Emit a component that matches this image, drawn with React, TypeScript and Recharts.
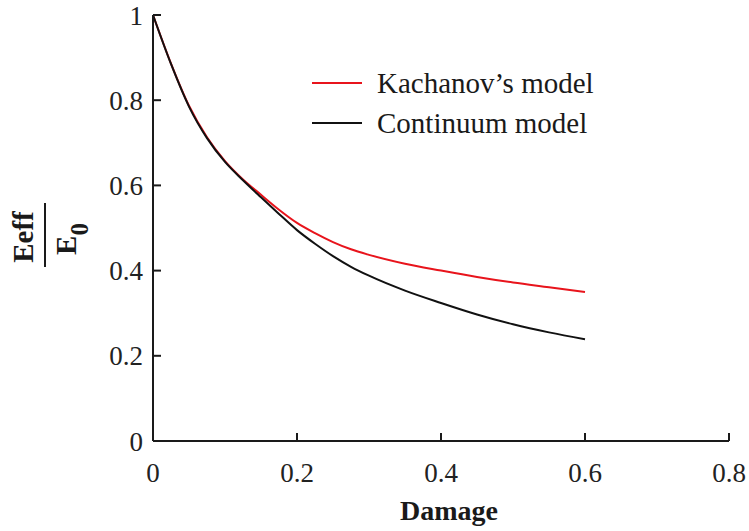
import { Label, Legend, Line, LineChart, XAxis, YAxis } from 'recharts';

const damage = [0, 0.025, 0.05, 0.075, 0.1, 0.125, 0.15, 0.175, 0.2, 0.225, 0.25, 0.275, 0.3, 0.35, 0.4, 0.45, 0.5, 0.55, 0.6];
const kachanov = [1.0, 0.886, 0.787, 0.713, 0.657, 0.614, 0.578, 0.543, 0.512, 0.488, 0.467, 0.45, 0.437, 0.416, 0.4, 0.385, 0.372, 0.361, 0.35];
const continuum = [1.0, 0.885, 0.785, 0.711, 0.655, 0.612, 0.572, 0.533, 0.495, 0.463, 0.434, 0.409, 0.388, 0.353, 0.324, 0.297, 0.274, 0.255, 0.239];

const seriesOrder = ['Kachanov’s model', 'Continuum model'];
const xTicks = [0, 0.2, 0.4, 0.6, 0.8];
const yTicks = [0, 0.2, 0.4, 0.6, 0.8, 1];

const rows = damage.map((d, i) => ({ damage: d, kachanov: kachanov[i], continuum: continuum[i] }));

const serif = '"Liberation Serif", "Times New Roman", serif';
const ink = '#1a1a1a';

function LegendBox({ payload }: any) {
  const items = [...(payload || [])].sort((a: any, b: any) => seriesOrder.indexOf(a.value) - seriesOrder.indexOf(b.value));
  return (
    <div style={{ fontFamily: serif, fontSize: 29, color: ink }}>
      {items.map((p: any) => (
        <div key={p.value} style={{ display: 'flex', alignItems: 'center', height: 40, lineHeight: '40px' }}>
          <svg width={50} height={40} style={{ marginRight: 15 }}>
            <line x1={0} x2={50} y1={20} y2={20} stroke={p.color} strokeWidth={2} />
          </svg>
          <span>{p.value}</span>
        </div>
      ))}
    </div>
  );
}

function YLabel({ viewBox }: any) {
  const cx = viewBox.x + 45;
  const cy = viewBox.y + viewBox.height / 2 + 7;
  return (
    <g transform={`translate(${cx}, ${cy}) rotate(-90)`} fill={ink} fontFamily={serif} fontWeight="bold">
      <text x={-2} y={-12} textAnchor="middle" fontSize={29}>Eeff</text>
      <line x1={-32} x2={32} y1={0} y2={0} stroke={ink} strokeWidth={2} />
      <text x={-4} y={31} textAnchor="middle" fontSize={29}>
        E<tspan dy={12} fontSize={25}>0</tspan>
      </text>
    </g>
  );
}

export default function App() {
  const axisStyle = { stroke: ink, strokeWidth: 2 };
  const tickStyle = { fontSize: 27, fill: '#222', fontFamily: serif };
  return (
    <div style={{ position: 'absolute', left: 0, top: 0, background: '#fff' }}>
      <LineChart width={749} height={531} data={rows} margin={{ top: 15, right: 20, bottom: 0, left: 0 }} style={{ fontFamily: serif }}>
        <XAxis
          dataKey="damage"
          type="number"
          domain={[0, 0.8]}
          ticks={xTicks}
          interval={0}
          height={90}
          tickSize={-8}
          tickMargin={30}
          axisLine={axisStyle}
          tickLine={axisStyle}
          tick={tickStyle}
          tickFormatter={(v) => String(v)}
        >
          <Label value="Damage" position="insideBottom" offset={11} dx={8} fontSize={28} fontWeight="bold" fill={ink} fontFamily={serif} />
        </XAxis>
        <YAxis
          type="number"
          domain={[0, 1]}
          ticks={yTicks}
          interval={0}
          width={153}
          tickSize={-8}
          tickMargin={18}
          axisLine={axisStyle}
          tickLine={axisStyle}
          tick={tickStyle}
          tickFormatter={(v) => String(v)}
        >
          <Label content={YLabel} />
        </YAxis>
        <Legend
          layout="vertical"
          align="center"
          verticalAlign="middle"
          content={LegendBox}
          wrapperStyle={{ left: 312, top: 63, width: 'auto', height: 'auto' }}
        />
        <Line type="monotone" dataKey="kachanov" name="Kachanov’s model" stroke="#e8141c" strokeWidth={2} dot={false} isAnimationActive={false} />
        <Line type="monotone" dataKey="continuum" name="Continuum model" stroke="#111111" strokeWidth={2} dot={false} isAnimationActive={false} />
      </LineChart>
    </div>
  );
}
